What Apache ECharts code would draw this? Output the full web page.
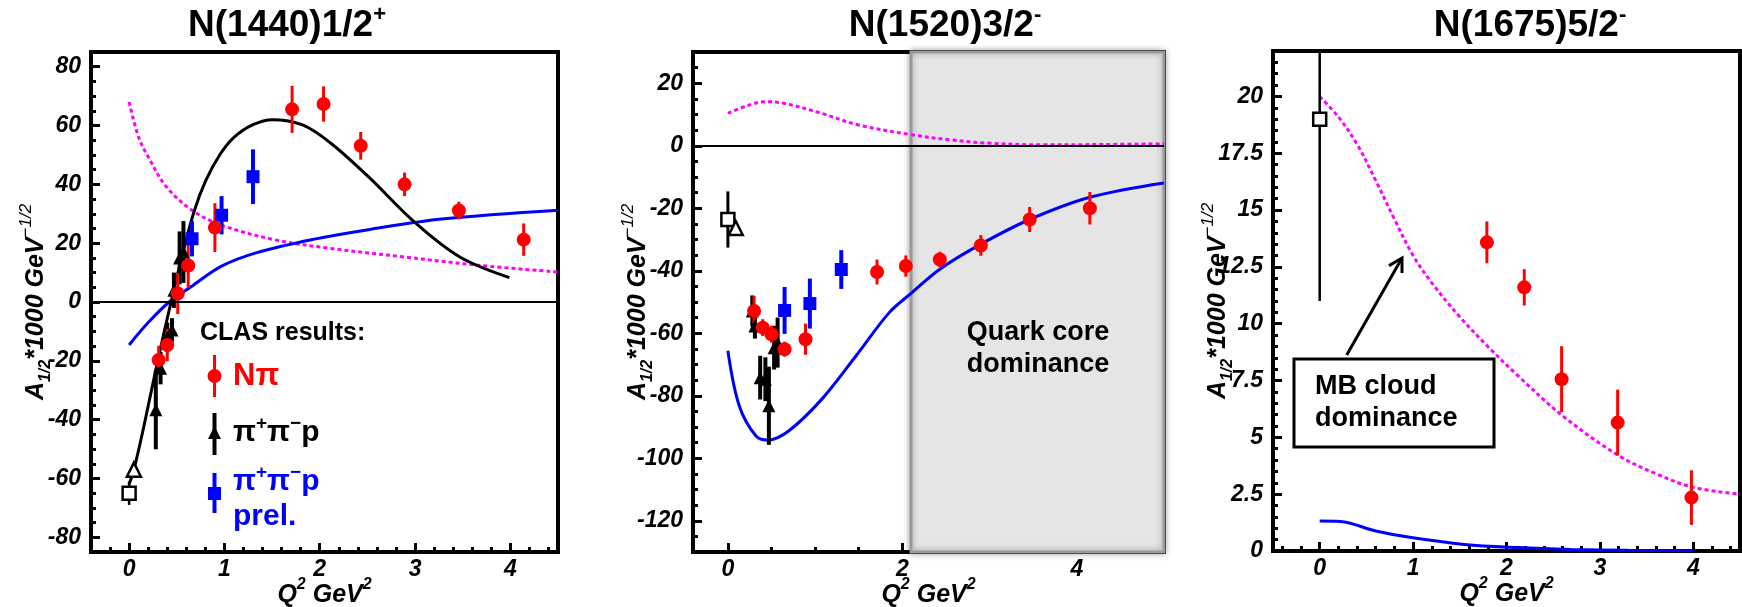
<!DOCTYPE html>
<html>
<head>
<meta charset="utf-8">
<title>CLAS helicity amplitudes</title>
<script src="https://cdn.jsdelivr.net/npm/echarts@6/dist/echarts.min.js"></script>
<style>
  html, body { margin: 0; padding: 0; background: #fff; }
  #chart { width: 1742px; height: 607px; }
</style>
</head>
<body>
<div id="chart"></div>
<script>
// ---------- N(1440)1/2+ ----------
const p1NpiQ2 = [0.31, 0.40, 0.51, 0.62, 0.90, 1.71, 2.04, 2.43, 2.89, 3.46, 4.14];
const p1NpiA = [-19.7, -14.6, 2.9, 12.4, 25.3, 65.5, 67.3, 53.1, 40.0, 31.1, 21.2];
const p1NpiErr = [4.8, 5.5, 7, 7.6, 8.3, 8, 6, 4.7, 4, 3, 5.5];
const p1PipiQ2 = [0.28, 0.33, 0.40, 0.45, 0.47, 0.53, 0.57];
const p1PipiA = [-36.6, -22.5, -12, -9.5, 4, 15, 17];
const p1PipiErr = [13.5, 5.5, 5, 4, 6, 9, 10.5];
const p1PrelQ2 = [0.66, 0.97, 1.30];
const p1PrelA = [21.5, 29.5, 42.6];
const p1PrelErr = [6, 6.5, 9.3];
const p1RppQ2 = [0], p1RppA = [-65], p1RppErr = [4];   // open square (real photon)
const p1PhotoQ2 = [0.05], p1PhotoA = [-57];            // open triangle
const p1BlackQ2 = [0, 0.05, 0.15, 0.3, 0.44, 0.55, 0.68, 0.8, 0.95, 1.1, 1.3, 1.5, 1.82, 2.12, 2.51, 3.01, 3.47, 3.99];
const p1BlackA = [-62, -57, -43, -20, 0, 15, 30.6, 41, 50, 56, 60.3, 62, 60.2, 53.9, 42.6, 26.7, 15.3, 8.3];
const p1MagQ2 = [0, 0.1, 0.2, 0.39, 0.66, 0.97, 1.55, 2.12, 2.89, 3.66, 4.5];
const p1MagA = [68, 56, 49.4, 39.2, 31.2, 26.1, 21, 18.2, 15.3, 12.5, 10.2];
const p1BlueQ2 = [0, 0.2, 0.42, 0.65, 0.97, 1.34, 1.93, 2.51, 3.28, 4.5];
const p1BlueA = [-14.6, -7, 0, 5.2, 12.2, 16.8, 21.3, 24.6, 28.2, 31.2];
const p1XTicks = [0, 1, 2, 3, 4];
const p1YTicks = [-80, -60, -40, -20, 0, 20, 40, 60, 80];

// ---------- N(1520)3/2- ----------
const p2NpiQ2 = [0.30, 0.40, 0.50, 0.65, 0.89, 1.71, 2.04, 2.43, 2.90, 3.46, 4.15];
const p2NpiA = [-52.9, -58.2, -60.3, -65.1, -61.9, -40.4, -38.5, -36.4, -31.9, -23.6, -20];
const p2NpiErr = [4.8, 2.7, 2.7, 2.4, 5, 4, 3.4, 2.5, 3.3, 4, 5.2];
const p2PipiQ2 = [0.28, 0.31, 0.37, 0.43, 0.47, 0.53, 0.57];
const p2PipiA = [-52.9, -57.7, -74.2, -74.7, -83.2, -64.6, -63];
const p2PipiErr = [5, 4, 7, 7, 12.5, 7, 8];
const p2PrelQ2 = [0.65, 0.94, 1.30];
const p2PrelA = [-52.7, -50.5, -39.6];
const p2PrelErr = [7.5, 8, 6.2];
const p2RppQ2 = [0], p2RppA = [-23.6], p2RppErr = [9];
const p2PhotoQ2 = [0.09], p2PhotoA = [-26.3];
const p2BlueQ2 = [0, 0.13, 0.32, 0.46, 0.70, 1.08, 1.47, 1.85, 2.11, 2.43, 2.9, 3.46, 4.15, 5.0];
const p2BlueA = [-65.6, -83.2, -92.8, -94.2, -91.2, -81, -67.2, -53.4, -47, -39.5, -31.5, -23.6, -16.5, -11.9];
const p2MagQ2 = [0, 0.22, 0.43, 0.64, 1.07, 1.49, 2.11, 2.55, 2.97, 3.61, 4.3, 5.0];
const p2MagA = [10.4, 12.8, 14.1, 13.6, 10.4, 6.7, 3.5, 1.9, 0.85, 0.3, 0.4, 0.6];
const p2CoreBand = [2.1, 5];
const p2XTicks = [0, 2, 4];
const p2YTicks = [-120, -100, -80, -60, -40, -20, 0, 20];

// ---------- N(1675)5/2- ----------
const p3NpiQ2 = [1.79, 2.19, 2.59, 3.19, 3.98];
const p3NpiA = [13.58, 11.6, 7.56, 5.65, 2.35];
const p3NpiErr = [0.92, 0.8, 1.45, 1.45, 1.2];
const p3RppQ2 = [0], p3RppA = [19], p3RppErr = [8];
const p3MagQ2 = [0, 0.2, 0.4, 0.6, 0.8, 1.0, 1.2, 1.5, 1.8, 2.1, 2.6, 3.2, 3.6, 4.0, 4.5];
const p3MagA = [20, 19.1, 17.9, 16.3, 14.6, 13.0, 11.8, 10.3, 9.0, 7.8, 5.95, 4.2, 3.4, 2.8, 2.5];
const p3BlueQ2 = [0, 0.22, 0.6, 0.98, 1.55, 2.12, 2.69, 3.3, 4.0];
const p3BlueA = [1.32, 1.3, 0.88, 0.59, 0.29, 0.15, 0.07, 0.03, 0.0];
const p3XTicks = [0, 1, 2, 3, 4];
const p3YTicks = [0, 2.5, 5, 7.5, 10, 12.5, 15, 17.5, 20];

const FONT = 'Liberation Sans';
const RED = '#ff0000', BLUE = '#0000ff', MAG = '#ff00ff';

const pairs = (xs, ys) => xs.map((x, i) => [x, ys[i]]);
const bars = (xs, ys, es) => xs.map((x, i) => [x, ys[i] - es[i], ys[i] + es[i]]);

// minor tick positions between the labelled ones
function minors(min, max, step, major) {
  const out = [];
  for (let k = Math.ceil(min / step); k * step <= max + 1e-9; k++) {
    const v = Math.round(k * step * 1000) / 1000;
    if (!major.some(m => Math.abs(m - v) < 1e-6)) out.push(v);
  }
  return out;
}

const tickFont = { color: '#000', fontFamily: FONT, fontWeight: 'bold', fontStyle: 'italic', fontSize: 23 };
const nameRich = {
  b: { color: '#000', fontFamily: FONT, fontWeight: 'bold', fontStyle: 'italic', fontSize: 25, lineHeight: 36 },
  sub: { color: '#000', fontFamily: FONT, fontWeight: 'bold', fontStyle: 'italic', fontSize: 16, lineHeight: 16, verticalAlign: 'bottom' },
  sup: { color: '#000', fontFamily: FONT, fontStyle: 'italic', fontSize: 17, lineHeight: 17, verticalAlign: 'top' },
  bs: { color: '#000', fontFamily: FONT, fontWeight: 'bold', fontStyle: 'italic', fontSize: 16, lineHeight: 16, verticalAlign: 'top' }
};

function axisPair(dim, grid, min, max, major, minorStep) {
  const main = {
    type: 'value', gridIndex: grid, min: min, max: max,
    position: dim === 'x' ? 'bottom' : 'left',
    axisLine: { onZero: false, lineStyle: { color: '#000', width: 4 } },
    axisTick: { inside: true, length: 9, customValues: major, lineStyle: { color: '#000', width: 3 } },
    axisLabel: Object.assign({ customValues: major, margin: dim === 'x' ? 6 : 10 }, tickFont),
    splitLine: { show: false },
    nameLocation: 'middle',
    nameMoveOverlap: false,
    nameTextStyle: { rich: nameRich }
  };
  if (dim === 'x') {
    main.name = '{b|Q}{bs|2}{b| GeV}{bs|2}';
    main.nameGap = 25;
  } else {
    main.name = '{b|A}{sub|1/2}{b|*1000 GeV}{sup|\u22121/2}';
    main.nameGap = 37;
  }
  const minor = {
    type: 'value', gridIndex: grid, min: min, max: max,
    position: dim === 'x' ? 'bottom' : 'left',
    axisLine: { show: false, onZero: false },
    axisTick: { inside: true, length: 5, customValues: minors(min, max, minorStep, major), lineStyle: { color: '#000', width: 3 } },
    axisLabel: { show: false },
    splitLine: { show: false }
  };
  return [main, minor];
}

function barRenderer(color, width) {
  return function (params, api) {
    const a = api.coord([api.value(0), api.value(1)]);
    const b = api.coord([api.value(0), api.value(2)]);
    const cs = params.coordSys;
    const top = Math.max(Math.min(a[1], b[1]), cs.y);
    const bottom = Math.min(Math.max(a[1], b[1]), cs.y + cs.height);
    return { type: 'line', shape: { x1: a[0], y1: top, x2: a[0], y2: bottom }, style: { stroke: color, lineWidth: width } };
  };
}

function errSeries(ax, data, color, width) {
  return { type: 'custom', xAxisIndex: ax, yAxisIndex: ax, renderItem: barRenderer(color, width),
    encode: { x: 0, y: [1, 2] }, data: data, silent: true, z: 3 };
}
function dots(ax, data, symbol, size, fill, border) {
  return { type: 'scatter', xAxisIndex: ax, yAxisIndex: ax, data: data, symbol: symbol, symbolSize: size,
    itemStyle: { color: fill, borderColor: border || fill, borderWidth: border ? 2.5 : 0, opacity: 1 }, z: 4 };
}
function curve(ax, data, color, dashed, extra) {
  return Object.assign({ type: 'line', xAxisIndex: ax, yAxisIndex: ax, data: data, smooth: 0.35,
    showSymbol: false, lineStyle: { color: color, width: 3, type: dashed ? [4, 3] : 'solid' }, z: 2, silent: true }, extra || {});
}
const zeroLine = { silent: true, symbol: 'none', label: { show: false }, lineStyle: { color: '#000', width: 2, type: 'solid' }, data: [{ yAxis: 0 }] };

const xA = [].concat(
  axisPair('x', 0, -0.4, 4.5, p1XTicks, 0.2),
  axisPair('x', 1, -0.4, 5, p2XTicks, 0.5),
  axisPair('x', 2, -0.5, 4.5, p3XTicks, 0.2));
const yA = [].concat(
  axisPair('y', 0, -85, 85, p1YTicks, 5),
  axisPair('y', 1, -130, 30, p2YTicks, 5),
  axisPair('y', 2, 0, 22, p3YTicks, 0.5));

const gridBase = { show: true, borderColor: '#000', borderWidth: 4, backgroundColor: 'transparent', outerBoundsMode: 'none', containLabel: false };
const titleRich = {
  t: { fontFamily: FONT, fontWeight: 'bold', fontSize: 37, lineHeight: 44 },
  s: { fontFamily: FONT, fontWeight: 'bold', fontSize: 22, lineHeight: 22, verticalAlign: 'top' }
};
const piRich = color => ({
  p: { fontFamily: FONT, fontWeight: 'bold', fontSize: 30, lineHeight: 38, fill: color },
  s: { fontFamily: FONT, fontWeight: 'bold', fontSize: 19, lineHeight: 19, verticalAlign: 'top', fill: color }
});

const chart = echarts.init(document.getElementById('chart'));
chart.setOption({
  animation: false,
  backgroundColor: '#fff',
  grid: [
    Object.assign({ left: 91, top: 52, width: 467, height: 500 }, gridBase),
    Object.assign({ left: 693, top: 52, width: 471, height: 500 }, gridBase),
    Object.assign({ left: 1273, top: 51, width: 467, height: 500 }, gridBase)
  ],
  xAxis: xA,
  yAxis: yA,
  series: [
    // panel 1 (axes 0)
    curve(0, pairs(p1MagQ2, p1MagA), MAG, true, { markLine: zeroLine }),
    curve(0, pairs(p1BlueQ2, p1BlueA), BLUE, false),
    curve(0, pairs(p1BlackQ2, p1BlackA), '#000', false),
    errSeries(0, bars(p1RppQ2, p1RppA, p1RppErr), '#000', 2.5),
    dots(0, pairs(p1RppQ2, p1RppA), 'rect', 13, '#fff', '#000'),
    dots(0, pairs(p1PhotoQ2, p1PhotoA), 'triangle', 14, '#fff', '#000'),
    errSeries(0, bars(p1PipiQ2, p1PipiA, p1PipiErr), '#000', 4),
    dots(0, pairs(p1PipiQ2, p1PipiA), 'triangle', 13, '#000'),
    errSeries(0, bars(p1PrelQ2, p1PrelA, p1PrelErr), BLUE, 4),
    dots(0, pairs(p1PrelQ2, p1PrelA), 'rect', 13, BLUE),
    errSeries(0, bars(p1NpiQ2, p1NpiA, p1NpiErr), RED, 3),
    dots(0, pairs(p1NpiQ2, p1NpiA), 'circle', 14, RED),

    // panel 2 (axes 2)
    curve(2, pairs(p2MagQ2, p2MagA), MAG, true, { markLine: zeroLine }),
    curve(2, pairs(p2BlueQ2, p2BlueA), BLUE, false, {
      markArea: { silent: true, itemStyle: { color: '#e5e5e5', borderColor: '#9a9a9a', borderWidth: 3,
        shadowBlur: 6, shadowColor: 'rgba(0,0,0,0.35)' },
        data: [[{ xAxis: p2CoreBand[0], yAxis: -130 }, { xAxis: p2CoreBand[1], yAxis: 30 }]] }
    }),
    errSeries(2, bars(p2RppQ2, p2RppA, p2RppErr), '#000', 3),
    dots(2, pairs(p2RppQ2, p2RppA), 'rect', 13, '#fff', '#000'),
    dots(2, pairs(p2PhotoQ2, p2PhotoA), 'triangle', 14, '#fff', '#000'),
    errSeries(2, bars(p2PipiQ2, p2PipiA, p2PipiErr), '#000', 4),
    dots(2, pairs(p2PipiQ2, p2PipiA), 'triangle', 13, '#000'),
    errSeries(2, bars(p2PrelQ2, p2PrelA, p2PrelErr), BLUE, 4),
    dots(2, pairs(p2PrelQ2, p2PrelA), 'rect', 13, BLUE),
    errSeries(2, bars(p2NpiQ2, p2NpiA, p2NpiErr), RED, 3),
    dots(2, pairs(p2NpiQ2, p2NpiA), 'circle', 14, RED),

    // panel 3 (axes 4)
    curve(4, pairs(p3MagQ2, p3MagA), MAG, true),
    curve(4, pairs(p3BlueQ2, p3BlueA), BLUE, false),
    errSeries(4, bars(p3RppQ2, p3RppA, p3RppErr), '#000', 2.5),
    dots(4, pairs(p3RppQ2, p3RppA), 'rect', 13, '#fff', '#000'),
    errSeries(4, bars(p3NpiQ2, p3NpiA, p3NpiErr), RED, 3),
    dots(4, pairs(p3NpiQ2, p3NpiA), 'circle', 14, RED)
  ],
  graphic: [
    // titles
    { type: 'text', x: 287, y: 26, style: { text: '{t|N(1440)1/2}{s|+}', align: 'center', verticalAlign: 'middle', rich: titleRich } },
    { type: 'text', x: 945, y: 26, style: { text: '{t|N(1520)3/2}{s|-}', align: 'center', verticalAlign: 'middle', rich: titleRich } },
    { type: 'text', x: 1530, y: 26, style: { text: '{t|N(1675)5/2}{s|-}', align: 'center', verticalAlign: 'middle', rich: titleRich } },

    // panel 1 legend
    { type: 'text', x: 200, y: 333, style: { text: 'CLAS results:', fontFamily: FONT, fontWeight: 'bold', fontSize: 25, fill: '#000', verticalAlign: 'middle' } },
    { type: 'line', shape: { x1: 214.5, y1: 355, x2: 214.5, y2: 397 }, style: { stroke: RED, lineWidth: 3 } },
    { type: 'circle', shape: { cx: 214.5, cy: 376, r: 7 }, style: { fill: RED } },
    { type: 'text', x: 233, y: 376, style: { text: 'N\u03c0', fontFamily: FONT, fontWeight: 'bold', fontSize: 31, fill: RED, verticalAlign: 'middle' } },
    { type: 'line', shape: { x1: 214.5, y1: 413, x2: 214.5, y2: 455 }, style: { stroke: '#000', lineWidth: 4 } },
    { type: 'polygon', shape: { points: [[214.5, 426], [221, 439], [208, 439]] }, style: { fill: '#000' } },
    { type: 'text', x: 233, y: 433, style: { text: '{p|\u03c0}{s|+}{p|\u03c0}{s|\u2212}{p|p}', verticalAlign: 'middle', rich: piRich('#000') } },
    { type: 'line', shape: { x1: 214.5, y1: 473, x2: 214.5, y2: 513 }, style: { stroke: BLUE, lineWidth: 4 } },
    { type: 'rect', shape: { x: 208, y: 487, width: 13, height: 13 }, style: { fill: BLUE } },
    { type: 'text', x: 233, y: 482, style: { text: '{p|\u03c0}{s|+}{p|\u03c0}{s|\u2212}{p|p}', verticalAlign: 'middle', rich: piRich(BLUE) } },
    { type: 'text', x: 233, y: 517, style: { text: 'prel.', fontFamily: FONT, fontWeight: 'bold', fontSize: 30, fill: BLUE, verticalAlign: 'middle' } },

    // panel 2 annotation
    { type: 'text', x: 1038, y: 349, z: 10, style: { text: 'Quark core\ndominance', align: 'center', verticalAlign: 'middle',
      fontFamily: FONT, fontWeight: 'bold', fontSize: 27, lineHeight: 32, fill: '#000' } },

    // panel 3 annotation
    { type: 'rect', shape: { x: 1294, y: 359, width: 200, height: 88 }, style: { fill: '#fff', stroke: '#000', lineWidth: 3 }, z: 10 },
    { type: 'text', x: 1315, y: 403, z: 11, style: { text: 'MB cloud\ndominance', verticalAlign: 'middle',
      fontFamily: FONT, fontWeight: 'bold', fontSize: 27, lineHeight: 32, fill: '#000' } },
    { type: 'polyline', shape: { points: [[1346.7, 355], [1402, 258]] }, style: { stroke: '#000', lineWidth: 3 }, z: 10 },
    { type: 'polyline', shape: { points: [[1389, 265.6], [1402, 258], [1402, 273]] }, style: { stroke: '#000', lineWidth: 3, fill: null }, z: 10 }
  ]
});
</script>
</body>
</html>
